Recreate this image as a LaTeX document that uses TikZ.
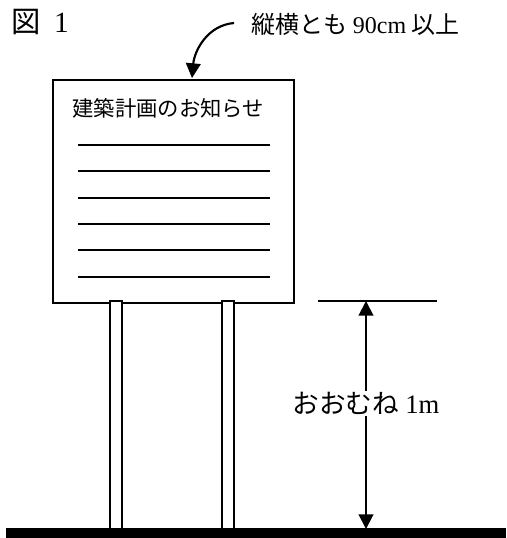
\documentclass[tikz,border=0pt]{standalone}
\usepackage{fontspec}
\newfontfamily\jp{Noto Sans CJK JP}
\newfontfamily\lat{Liberation Serif}
\usetikzlibrary{arrows.meta, positioning, calc}

\begin{document}
\begin{tikzpicture}[x=0.75pt, y=-0.75pt,
    board/.style = {rectangle, draw=black, line width=1.5pt, fill=white, minimum width=180.75pt, minimum height=167.25pt, inner sep=0pt},
    post/.style = {rectangle, draw=black, line width=1.5pt, fill=white, minimum width=9pt, minimum height=171pt, inner sep=0pt},
    ground/.style = {rectangle, fill=black, minimum width=375pt, minimum height=7.5pt, inner sep=0pt},
    rule/.style = {line width=1.5pt},
    arrow/.style = {line width=1.6pt, -{Triangle[length=11pt, width=11pt]}},
    dimarrow/.style = {line width=1.5pt, {Triangle[length=11pt, width=11pt]}-{Triangle[length=11pt, width=11pt]}},
    label/.style = {inner sep=1pt, font=\jp\fontsize{16pt}{19pt}\selectfont}]
    \useasboundingbox (0,0) rectangle (506,538);

    % Nodes
    \node (board) [board] at (173.5,191.5) {};
    \node (title) [label, anchor=west] at (71,108) {建築計画のお知らせ};
    \node (postL) [post] at (116,415) {};
    \node (postR) [post] at (228,415) {};
    \node (ground) [ground] at (256,533) {};
    \node (fig) [label, anchor=west, font=\jp\fontsize{22pt}{26pt}\selectfont] at (10,22) {図\hspace{0.45em}{\lat 1}};
    \node (size) [label, anchor=west, font=\jp\fontsize{18pt}{21pt}\selectfont] at (250,24) {縦横とも {\lat 90cm} 以上};
    \coordinate (from) at (234,23);
    \coordinate (tip) at (192,78);
    \coordinate (limitL) at (318,301);
    \coordinate (limitR) at (437,301);
    \coordinate (dimtop) at (366,301);
    \coordinate (dimbot) at (366,529);

    % Text lines on the board
    \foreach \y in {145,171,198,224,250,277}
        \draw [rule] (78,\y) -- (270,\y);

    % Arrows
    \draw [arrow] (from) to[out=185, in=85] (tip);
    \draw [rule] (limitL) -- (limitR);
    \draw [dimarrow] (dimtop) -- (dimbot)
        node (height) [pos=0.45, fill=white, label, font=\jp\fontsize{20pt}{24pt}\selectfont] {おおむね {\lat 1m}};
\end{tikzpicture}
\end{document}
